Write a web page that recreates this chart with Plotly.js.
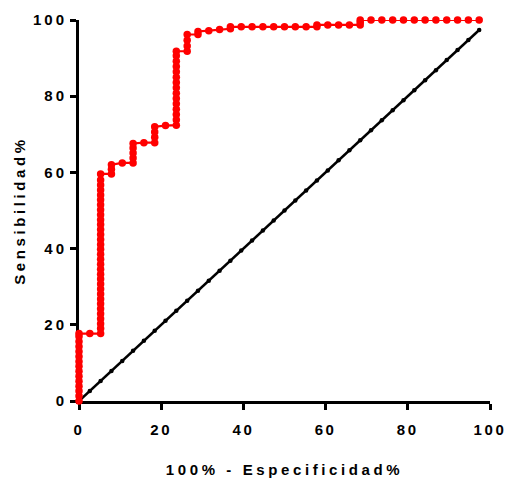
<!DOCTYPE html>
<html>
<head>
<meta charset="utf-8">
<script src="https://cdn.plot.ly/plotly-3.0.1.min.js"></script>
<style>
html, body { margin: 0; padding: 0; background: #fff; }
#chart { width: 505px; height: 479px; }
.xtick text { letter-spacing: 2.6px; }
.ytick text { letter-spacing: 3px; }
.g-xtitle text, .g-ytitle text { letter-spacing: 3.6px; }
</style>
</head>
<body>
<div id="chart"></div>
<script>
// ROC curve: 100% - Specificity (x) vs Sensitivity (y)
const rocX = [
  0, 0, 0, 0, 0, 0, 0, 0, 0, 0, 0, 0, 0, 0, 0,
  2.63,
  5.26, 5.26, 5.26, 5.26, 5.26, 5.26, 5.26, 5.26, 5.26, 5.26, 5.26,
  5.26, 5.26, 5.26, 5.26, 5.26, 5.26, 5.26, 5.26, 5.26, 5.26, 5.26,
  5.26, 5.26, 5.26, 5.26, 5.26, 5.26, 5.26, 5.26, 5.26, 5.26, 5.26,
  7.89, 7.89, 7.89,
  10.53,
  13.16, 13.16, 13.16, 13.16, 13.16,
  15.79,
  18.42, 18.42, 18.42, 18.42,
  21.05,
  23.68, 23.68, 23.68, 23.68, 23.68, 23.68, 23.68, 23.68, 23.68, 23.68,
  23.68, 23.68, 23.68, 23.68, 23.68,
  26.32, 26.32, 26.32, 26.32,
  28.95, 28.95,
  31.58,
  34.21,
  36.84, 36.84,
  39.47, 42.11, 44.74, 47.37, 50.00, 52.63, 55.26,
  57.89, 57.89,
  60.53, 63.16, 65.79,
  68.42, 68.42, 68.42,
  71.05, 73.68, 76.32, 78.95, 81.58, 84.21, 86.84, 89.47, 92.11, 94.74, 97.37
];
const rocY = [
  0, 1.3, 2.6, 3.9, 5.2, 6.5, 7.8, 9.1, 10.4, 11.7, 13.0, 14.3, 15.6, 16.9, 17.7,
  17.7,
  17.7, 19.0, 20.3, 21.6, 22.9, 24.2, 25.5, 26.8, 28.1, 29.4, 30.7,
  32.0, 33.3, 34.6, 35.9, 37.2, 38.5, 39.8, 41.1, 42.4, 43.7, 45.0,
  46.3, 47.6, 48.9, 50.2, 51.5, 52.8, 54.1, 55.4, 56.7, 58.0, 59.6,
  59.6, 60.8, 62.0,
  62.5,
  62.5, 63.8, 65.1, 66.4, 67.6,
  67.8,
  67.8, 69.2, 70.6, 72.0,
  72.3,
  72.4, 73.8, 75.2, 76.6, 78.0, 79.4, 80.8, 82.2, 83.6, 85.0,
  86.4, 87.8, 89.2, 90.6, 91.8,
  91.8, 93.2, 94.7, 96.2,
  96.2, 97.0,
  97.2,
  97.5,
  97.7, 98.2,
  98.2, 98.2, 98.2, 98.2, 98.2, 98.2, 98.2,
  98.2, 98.7,
  98.7, 98.7, 98.7,
  98.7, 99.4, 100,
  100, 100, 100, 100, 100, 100, 100, 100, 100, 100, 100
];
// Identity (chance) line
const diagX = [0, 2.63, 5.26, 7.89, 10.53, 13.16, 15.79, 18.42, 21.05, 23.68,
  26.32, 28.95, 31.58, 34.21, 36.84, 39.47, 42.11, 44.74, 47.37, 50.00,
  52.63, 55.26, 57.89, 60.53, 63.16, 65.79, 68.42, 71.05, 73.68, 76.32,
  78.95, 81.58, 84.21, 86.84, 89.47, 92.11, 94.74, 97.37];
const diagY = [0, 2.63, 5.26, 7.89, 10.53, 13.16, 15.79, 18.42, 21.05, 23.68,
  26.32, 28.95, 31.58, 34.21, 36.84, 39.47, 42.11, 44.74, 47.37, 50.00,
  52.63, 55.26, 57.89, 60.53, 63.16, 65.79, 68.42, 71.05, 73.68, 76.32,
  78.95, 81.58, 84.21, 86.84, 89.47, 92.11, 94.74, 97.37];
const tickVals = [0, 20, 40, 60, 80, 100];
const tickText = ['0', '20', '40', '60', '80', '100'];
const xTitle = '100% - Especificidad%';
const yTitle = 'Sensibilidad%';

const FONT = 'Liberation Sans, Arial, sans-serif';

const traces = [
  {
    x: diagX, y: diagY, type: 'scatter', mode: 'lines+markers',
    line: { color: '#000000', width: 2.5 },
    marker: { color: '#000000', size: 4.5 },
    cliponaxis: false, hoverinfo: 'skip'
  },
  {
    x: rocX, y: rocY, type: 'scatter', mode: 'lines+markers',
    line: { color: '#ff0000', width: 2.2 },
    marker: { color: '#ff0000', size: 7.5 },
    cliponaxis: false, hoverinfo: 'skip'
  }
];

const axisCommon = {
  range: [0, 100], autorange: false,
  showgrid: false, zeroline: false,
  showline: true, linecolor: '#000000', linewidth: 3,
  ticks: 'outside', ticklen: 6, tickwidth: 3, tickcolor: '#000000',
  tickvals: tickVals, ticktext: tickText,
  tickfont: { family: FONT, size: 15, color: '#000000', weight: 'bold' },
  ticklabeloverflow: 'allow',
  layer: 'below traces'
};

const layout = {
  width: 505, height: 479,
  margin: { l: 79, r: 15, t: 20, b: 78 },
  paper_bgcolor: '#ffffff', plot_bgcolor: '#ffffff',
  showlegend: false,
  xaxis: Object.assign({}, axisCommon, {
    ticklabelstandoff: 7,
    ticklabelshift: -1.6,
    title: { text: xTitle, standoff: 28,
      font: { family: FONT, size: 15, color: '#000000', weight: 'bold' } }
  }),
  yaxis: Object.assign({}, axisCommon, {
    ticklabelstandoff: 0,
    title: { text: yTitle, standoff: 4,
      font: { family: FONT, size: 15, color: '#000000', weight: 'bold' } }
  })
};

Plotly.newPlot('chart', traces, layout, { staticPlot: true, displayModeBar: false });
</script>
</body>
</html>
